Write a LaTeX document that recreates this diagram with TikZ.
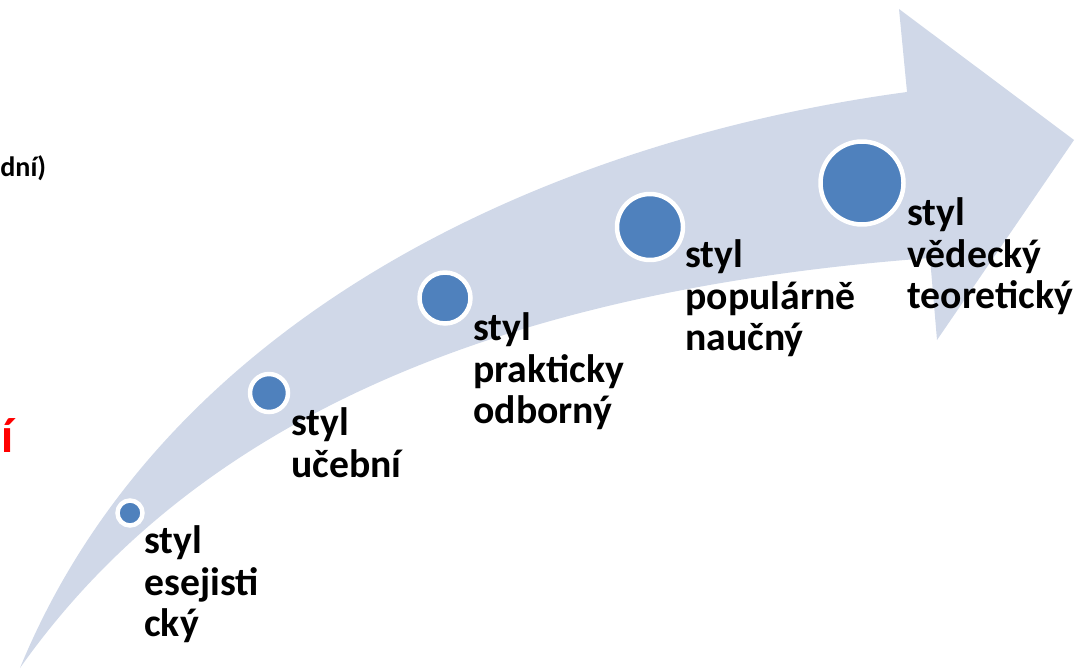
\documentclass[tikz,border=0pt]{standalone}
\usepackage{fontspec}
\setmainfont{Carlito}
\definecolor{bandblue}{HTML}{D0D8E8}
\definecolor{dotblue}{HTML}{4F81BD}

\begin{document}
\begin{tikzpicture}[x = 0.02cm, y = -0.02cm,
		dot/.style = {circle, draw = white, line width = 2.55pt, fill = dotblue, inner sep = 0},
		lbl/.style = {anchor = north west, inner sep = 0, align = left, font = \bfseries\fontsize{22.6}{23.8}\selectfont}]
			\useasboundingbox (0,0) rectangle (1087,669);
			
			% curved arrow
			\fill[bandblue] (20,668) .. controls (165,315) and (550,140) .. (907,92)
				-- (899,9) -- (1074,140) -- (937,340) -- (930,258)
				.. controls (500,290) and (195,420) .. (20,668) -- cycle;
			
			\node[dot, minimum size = 0.5cm] (d1) at (130,513) {};
			\node[dot, minimum size = 0.76cm] (d2) at (269,393) {};
			\node[dot, minimum size = 1.02cm] (d3) at (445,298) {};
			\node[dot, minimum size = 1.32cm] (d4) at (650,227) {};
			\node[dot, minimum size = 1.66cm] (d5) at (862,183) {};
			
			\node[lbl] (esej) at (144,525) {styl\\esejisti\\cký};
			\node[lbl] (uceb) at (291,407) {styl\\učební};
			\node[lbl] (prak) at (473,312) {styl\\prakticky\\odborný};
			\node[lbl] (popu) at (685,239) {styl\\populárně\\naučný};
			\node[lbl] (vede) at (907,197) {styl\\vědecký\\teoretický};
			
			\node[anchor = base west, inner sep = 0, font = \bfseries\fontsize{16}{18}\selectfont] (zbytek) at (0,176) {dní)};
			\node[anchor = base west, inner sep = 0, text = red, font = \bfseries\fontsize{28}{30}\selectfont] (cervene) at (1,452) {í};
		\end{tikzpicture}
\end{document}
